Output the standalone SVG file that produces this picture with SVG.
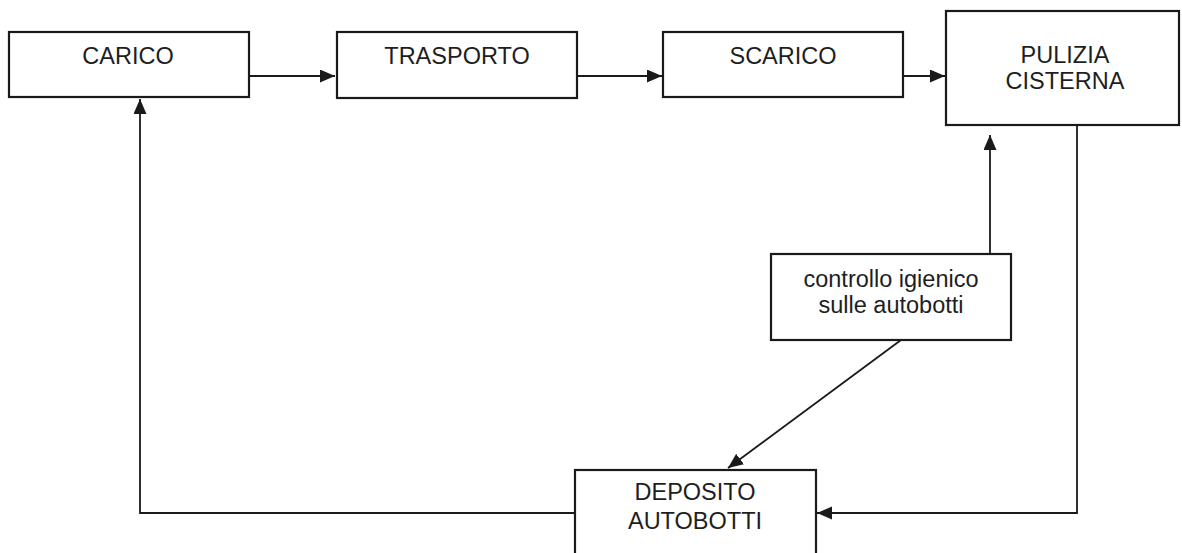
<svg xmlns="http://www.w3.org/2000/svg" width="1182" height="553" viewBox="0 0 1182 553">
<style>
.box{fill:#fff;stroke:#1a1a1a;stroke-width:2.2}
.lbl{font-family:"Liberation Sans",Arial,sans-serif;font-size:23.5px;fill:#1e1e1e;text-anchor:middle}
.con{fill:none;stroke:#1a1a1a;stroke-width:1.8}
</style>
<defs>
<marker id="ah" markerUnits="userSpaceOnUse" markerWidth="17" markerHeight="15" refX="15" refY="6.5" orient="auto">
<path d="M0,0 L15,6.5 L0,13 z" fill="#1a1a1a"/>
</marker>
</defs>
<rect width="1182" height="553" fill="#fff"/>
<g id="connectors">
<line class="con" x1="245" y1="76" x2="335" y2="76" marker-end="url(#ah)"/>
<line class="con" x1="577" y1="76" x2="662" y2="76" marker-end="url(#ah)"/>
<line class="con" x1="903" y1="76" x2="945" y2="76" marker-end="url(#ah)"/>
<line class="con" x1="990" y1="254" x2="990" y2="135" marker-end="url(#ah)"/>
<line class="con" x1="901" y1="340" x2="728" y2="468" marker-end="url(#ah)"/>
<polyline class="con" points="1077,125 1077,513 817,513" marker-end="url(#ah)"/>
<polyline class="con" points="575,513 140,513 140,99" marker-end="url(#ah)"/>
</g>
<g id="carico">
<rect class="box" x="9" y="32" width="240" height="65"/>
<text class="lbl" x="128" y="64">CARICO</text>
</g>
<g id="trasporto">
<rect class="box" x="337" y="32" width="240" height="66"/>
<text class="lbl" x="457" y="64">TRASPORTO</text>
</g>
<g id="scarico">
<rect class="box" x="663" y="32" width="240" height="65"/>
<text class="lbl" x="783" y="64">SCARICO</text>
</g>
<g id="pulizia">
<rect class="box" x="946" y="11" width="233" height="114"/>
<text class="lbl" x="1065" y="63">PULIZIA</text>
<text class="lbl" x="1065" y="89">CISTERNA</text>
</g>
<g id="controllo">
<rect class="box" x="771" y="254" width="240" height="86"/>
<text class="lbl" x="891" y="287">controllo igienico</text>
<text class="lbl" x="891" y="313">sulle autobotti</text>
</g>
<g id="deposito">
<rect class="box" x="575" y="470" width="241" height="90"/>
<text class="lbl" x="695" y="500">DEPOSITO</text>
<text class="lbl" x="695" y="529">AUTOBOTTI</text>
</g>
</svg>
